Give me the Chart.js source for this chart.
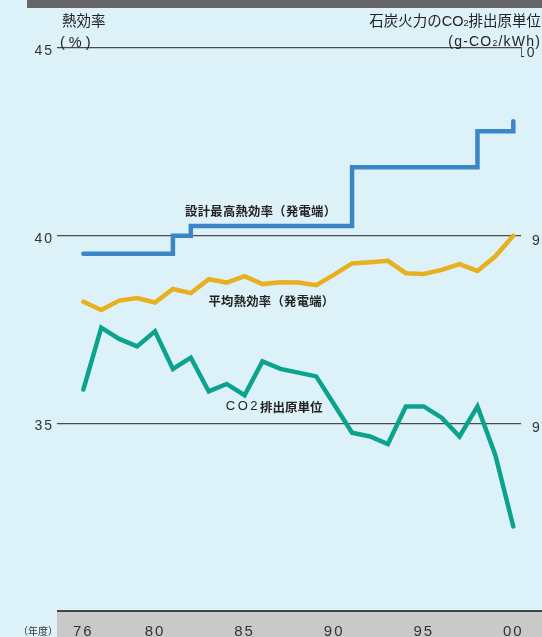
<!DOCTYPE html>
<html>
<head>
<meta charset="utf-8">
<script src="https://cdn.jsdelivr.net/npm/chart.js@4.4.1/dist/chart.umd.min.js"></script>
<style>
  body { margin: 0; background: #ddf2f8; }
  #wrap { position: relative; width: 542px; height: 637px; overflow: hidden; background: #ddf2f8;
          font-family: "Noto Sans CJK JP", sans-serif; color: #222; }
  #topbar { position: absolute; left: 27px; top: 0; width: 515px; height: 8px; background: #666; }
  #chart { position: absolute; left: 0; top: 0; }
  .t { position: absolute; white-space: nowrap; line-height: 1; }
  .num { font-family: "Liberation Sans", Arial, sans-serif; }
  .sub { font-size: 0.62em; }
</style>
</head>
<body>
<div id="wrap">
  <div id="topbar"></div>
  <canvas id="chart" width="542" height="637"></canvas>
  <div class="t" style="left:62px;top:13px;font-size:14.5px;">熱効率</div>
  <div class="t num" style="left:60px;top:35px;font-size:14.5px;">(&nbsp;%&nbsp;)</div>
  <div class="t" style="right:1px;top:13px;font-size:14.5px;">石炭火力の<span class="num">CO<span class="sub">2</span></span>排出原単位</div>
  <div class="t num" style="right:1px;top:34px;font-size:14px;letter-spacing:1.2px;">(g-CO<span class="sub">2</span>/kWh)</div>
  <div class="t" style="left:18px;top:626px;font-size:10px;color:#333;">（年度）</div>
</div>

<script>
/* values */
const years = [1976, 1977, 1978, 1979, 1980, 1981, 1982, 1983, 1984, 1985, 1986, 1987, 1988,
               1989, 1990, 1991, 1992, 1993, 1994, 1995, 1996, 1997, 1998, 1999, 2000];

// 設計最高熱効率（発電端） %
const designMax = [39.52, 39.52, 39.52, 39.52, 39.52, 40.0, 40.26, 40.26, 40.26, 40.26, 40.26, 40.26, 40.26,
                   40.26, 40.26, 41.82, 41.82, 41.82, 41.82, 41.82, 41.82, 41.82, 42.78, 42.78, 43.05];

// 平均熱効率（発電端） %
const average = [38.24, 38.02, 38.27, 38.34, 38.22, 38.58, 38.47, 38.84, 38.75, 38.92, 38.71, 38.76, 38.75,
                 38.68, 38.96, 39.26, 39.29, 39.33, 39.00, 38.98, 39.09, 39.24, 39.06, 39.45, 40.0];

// CO2排出原単位 g-CO2/kWh
const co2 = [909, 925.5, 922.5, 920.5, 924.5, 914.5, 917.5, 908.5, 910.5, 907.5, 916.5, 914.5, 913.5,
             912.5, 905, 897.5, 896.5, 894.5, 904.5, 904.5, 901.5, 896.5, 904.5, 891.5, 872.5];

const xTickYears = [1976, 1980, 1985, 1990, 1995, 2000];
const xTickLabels = ['76', '80', '85', '90', '95', '00'];
const leftTickLabels = {45: '45', 40: '40', 35: '35'};
// right-hand labels run off the edge of the picture; the lower ones sit a bit further right
const rightTickLabels = {1000: '10', 950: '\u2002 950', 900: '\u2002 900'};

// text labels next to the lines (placed in data units)
const notes = [
  {year: 1985.9, value: 40.64, parts: [{text: '設計最高熱効率（発電端）', font: 'bold 12.3px "Noto Sans CJK JP"', spacing: '0.3px'}]},
  {year: 1986.5, value: 38.25, parts: [{text: '平均熱効率（発電端）', font: 'bold 12.3px "Noto Sans CJK JP"', spacing: '0.3px'}]},
  {year: 1986.65, value: 35.44, parts: [
    {text: 'CO2', font: '13px "Liberation Sans"', spacing: '2.5px'},
    {text: '排出原単位', font: 'bold 12.5px "Noto Sans CJK JP"', spacing: '0px'}
  ]}
];

function points(vals) {
  return years.map((yr, i) => ({x: yr, y: vals[i]}));
}

const bandPlugin = {
  id: 'band',
  beforeDraw(chart) {
    const {ctx, chartArea, width, height} = chart;
    ctx.save();
    ctx.fillStyle = '#c9c9c9';
    ctx.fillRect(chartArea.left, chartArea.bottom, width - chartArea.left, height - chartArea.bottom);
    ctx.strokeStyle = '#111';
    ctx.lineWidth = 1.5;
    ctx.beginPath();
    ctx.moveTo(chartArea.left, chartArea.bottom);
    ctx.lineTo(width, chartArea.bottom);
    ctx.stroke();
    ctx.restore();
    ctx.letterSpacing = '2px'; // spaced-out tick digits
  }
};

const notesPlugin = {
  id: 'notes',
  afterDatasetsDraw(chart) {
    const {ctx} = chart;
    const xs = chart.scales.x, ys = chart.scales.y;
    ctx.save();
    ctx.fillStyle = '#222';
    ctx.textBaseline = 'middle';
    ctx.textAlign = 'left';
    notes.forEach(n => {
      const px = xs.getPixelForValue(n.year);
      const py = ys.getPixelForValue(n.value);
      let total = 0;
      n.parts.forEach(p => {
        ctx.font = p.font;
        ctx.letterSpacing = p.spacing;
        p.w = ctx.measureText(p.text).width;
        total += p.w;
      });
      let cx = px - total / 2;
      n.parts.forEach(p => {
        ctx.font = p.font;
        ctx.letterSpacing = p.spacing;
        ctx.fillText(p.text, cx, py);
        cx += p.w;
      });
    });
    ctx.restore();
  }
};

const tickFont = {family: '"Liberation Sans", Arial, sans-serif', size: 14};

new Chart(document.getElementById('chart'), {
  type: 'line',
  data: {
    datasets: [
      {
        label: 'CO2排出原単位',
        data: points(co2),
        yAxisID: 'y2',
        borderColor: '#0ca38d',
        borderWidth: 4.5,
        borderCapStyle: 'round',
        pointRadius: 0,
        tension: 0
      },
      {
        label: '平均熱効率（発電端）',
        data: points(average),
        yAxisID: 'y',
        borderColor: '#e8b01f',
        borderWidth: 4.5,
        borderCapStyle: 'round',
        pointRadius: 0,
        tension: 0
      },
      {
        label: '設計最高熱効率（発電端）',
        data: points(designMax),
        yAxisID: 'y',
        stepped: true,
        borderColor: '#3b86c6',
        borderWidth: 4.5,
        borderCapStyle: 'round',
        pointRadius: 0
      }
    ]
  },
  options: {
    responsive: false,
    animation: false,
    layout: {padding: {top: 48, left: 0, right: 0, bottom: 0}},
    plugins: {legend: {display: false}, tooltip: {enabled: false}},
    scales: {
      x: {
        type: 'linear',
        min: 1974.53,
        max: 2000.43,
        afterBuildTicks: s => { s.ticks = xTickYears.map(v => ({value: v})); },
        afterFit: s => { s.height = 26; },
        grid: {display: false, drawTicks: false},
        border: {display: false},
        ticks: {
          padding: 12,
          color: '#333',
          font: {family: '"Liberation Sans", Arial, sans-serif', size: 15},
          maxRotation: 0,
          autoSkip: false,
          callback: v => xTickLabels[xTickYears.indexOf(v)]
        }
      },
      y: {
        position: 'left',
        min: 30,
        max: 45,
        afterFit: s => { s.width = 57; },
        grid: {
          drawTicks: false,
          color: c => (c.tick && c.tick.value === 30) ? 'rgba(0,0,0,0)' : '#4a4a4a',
          lineWidth: 1.3
        },
        border: {display: false},
        ticks: {
          stepSize: 5,
          padding: 3,
          labelOffset: 3,
          color: '#333',
          font: tickFont,
          callback: v => leftTickLabels[v] || ''
        }
      },
      y2: {
        position: 'right',
        min: 850,
        max: 1000,
        afterFit: s => { s.width = 21; },
        grid: {display: false, drawTicks: false},
        border: {display: false},
        ticks: {
          stepSize: 50,
          padding: -4,
          labelOffset: 5,
          color: '#333',
          font: tickFont,
          callback: v => rightTickLabels[v] || ''
        }
      }
    }
  },
  plugins: [bandPlugin, notesPlugin]
});
</script>
</body>
</html>
